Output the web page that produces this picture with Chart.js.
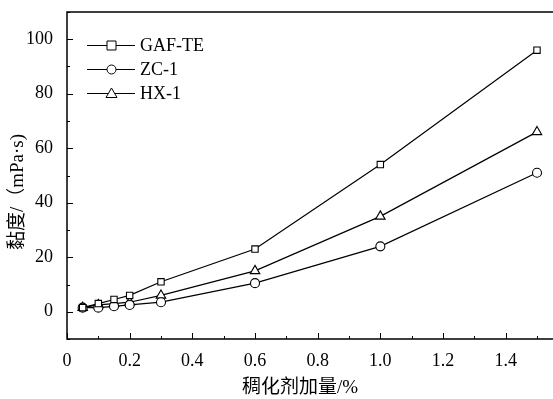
<!DOCTYPE html>
<html>
<head>
<meta charset="utf-8">
<script src="https://cdn.jsdelivr.net/npm/chart.js@4/dist/chart.umd.min.js"></script>
<style>
  html, body { margin: 0; padding: 0; background: #fff; overflow: hidden; }
  #wrap { width: 553px; height: 399px; }
</style>
</head>
<body>
<div id="wrap"><canvas id="c"></canvas></div>
<script>
const dosage = [0.05, 0.1, 0.15, 0.2, 0.3, 0.6, 1.0, 1.5];
const gafTe = [1.5, 3, 4.5, 6, 11, 23, 54, 96];
const zc1 = [1.5, 1.5, 2, 2.5, 3.5, 10.5, 24, 51];
const hx1 = [1.5, 2.5, 3, 3.5, 6, 15, 35, 66];
const seriesNames = ['GAF-TE', 'ZC-1', 'HX-1'];
const markers = ['rect', 'circle', 'triangle'];
const xTicks = [0, 0.2, 0.4, 0.6, 0.8, 1.0, 1.2, 1.4];
const yTicks = [0, 20, 40, 60, 80, 100];

const serif = '"Liberation Serif", "Times New Roman", serif';
const titleFont = '"Liberation Serif", "Noto Sans CJK SC", serif';
const pts = (ys) => dosage.map((x, i) => ({ x, y: ys[i] }));

const makeSet = (label, ys, style, radius) => ({
    label,
    data: pts(ys),
    showLine: true,
    borderColor: '#000',
    borderWidth: 1.2,
    backgroundColor: '#fff',
    pointStyle: style,
    pointRadius: radius,
    pointBorderWidth: 1.1,
    pointBorderColor: '#000',
    pointBackgroundColor: '#fff'
});

// frame (open on the right, as in the cropped figure), inward ticks, legend, titles
const frame = {
    id: 'frame',
    afterDatasetsDraw(chart) {
        const { ctx, chartArea: a, scales: { x, y } } = chart;
        const w = chart.width;
        ctx.save();
        ctx.strokeStyle = '#000';
        ctx.lineWidth = 1.5;
        ctx.beginPath();
        ctx.moveTo(w, a.top);
        ctx.lineTo(a.left, a.top);
        ctx.lineTo(a.left, a.bottom);
        ctx.lineTo(w, a.bottom);
        ctx.stroke();

        ctx.lineWidth = 1;
        ctx.beginPath();
        for (let v = 0; v <= 15; v++) {
            const px = Math.round(x.getPixelForValue(v / 10)) + 0.5;
            const len = v % 2 === 0 ? 6 : 3;
            ctx.moveTo(px, a.bottom);
            ctx.lineTo(px, a.bottom - len);
        }
        for (let v = -10; v <= 110; v += 10) {
            const py = Math.round(y.getPixelForValue(v)) + 0.5;
            const len = v % 20 === 0 ? 6 : 3;
            ctx.moveTo(a.left, py);
            ctx.lineTo(a.left + len, py);
        }
        ctx.stroke();

        // legend
        ctx.font = '18px ' + serif;
        ctx.textBaseline = 'middle';
        ctx.fillStyle = '#000';
        chart.data.datasets.forEach((ds, i) => {
            const ly = 45 + i * 24;
            ctx.beginPath();
            ctx.moveTo(87, ly + 0.5);
            ctx.lineTo(135, ly + 0.5);
            ctx.stroke();
            ctx.beginPath();
            ctx.fillStyle = '#fff';
            if (ds.pointStyle === 'rect') {
                ctx.rect(107, ly - 4, 9, 9);
            } else if (ds.pointStyle === 'circle') {
                ctx.arc(111.5, ly + 0.5, 4.5, 0, Math.PI * 2);
            } else {
                ctx.moveTo(111.5, ly - 5);
                ctx.lineTo(117, ly + 4.5);
                ctx.lineTo(106, ly + 4.5);
                ctx.closePath();
            }
            ctx.fill();
            ctx.stroke();
            ctx.fillStyle = '#000';
            ctx.fillText(ds.label, 140, ly + 1);
        });

        // axis titles
        ctx.textAlign = 'center';
        ctx.font = '19px ' + titleFont;
        ctx.fillText('稠化剂加量/%', 300, 388);
        ctx.translate(18, 192);
        ctx.rotate(-Math.PI / 2);
        ctx.fillText('黏度/（mPa·s)', 0, 0);
        ctx.restore();
    }
};

new Chart(document.getElementById('c'), {
    type: 'scatter',
    data: {
        datasets: [
            makeSet(seriesNames[0], gafTe, markers[0], 4.5),
            makeSet(seriesNames[1], zc1, markers[1], 4.5),
            makeSet(seriesNames[2], hx1, markers[2], 5.5)
        ]
    },
    options: {
        responsive: true,
        maintainAspectRatio: false,
        animation: false,
        layout: { padding: { top: 12, right: 0, left: 4, bottom: 0 } },
        plugins: { legend: { display: false }, tooltip: { enabled: false } },
        scales: {
            x: {
                type: 'linear',
                min: 0,
                max: 1.53,
                afterBuildTicks(s) { s.ticks = xTicks.map(v => ({ value: v })); },
                afterFit(s) { s.height = 60; s.paddingLeft = 0; s.paddingRight = 0; },
                grid: { display: false },
                border: { display: false },
                ticks: {
                    color: '#000',
                    font: { family: serif, size: 18 },
                    padding: 3,
                    maxRotation: 0,
                    callback: (v) => v === 0 ? '0' : v.toFixed(1)
                }
            },
            y: {
                min: -10,
                max: 110,
                afterBuildTicks(s) { s.ticks = yTicks.map(v => ({ value: v })); },
                afterFit(s) { s.width = 63; s.paddingTop = 0; s.paddingBottom = 0; },
                grid: { display: false },
                border: { display: false },
                ticks: {
                    color: '#000',
                    font: { family: serif, size: 18 },
                    padding: 6
                }
            }
        }
    },
    plugins: [frame]
});
</script>
</body>
</html>
